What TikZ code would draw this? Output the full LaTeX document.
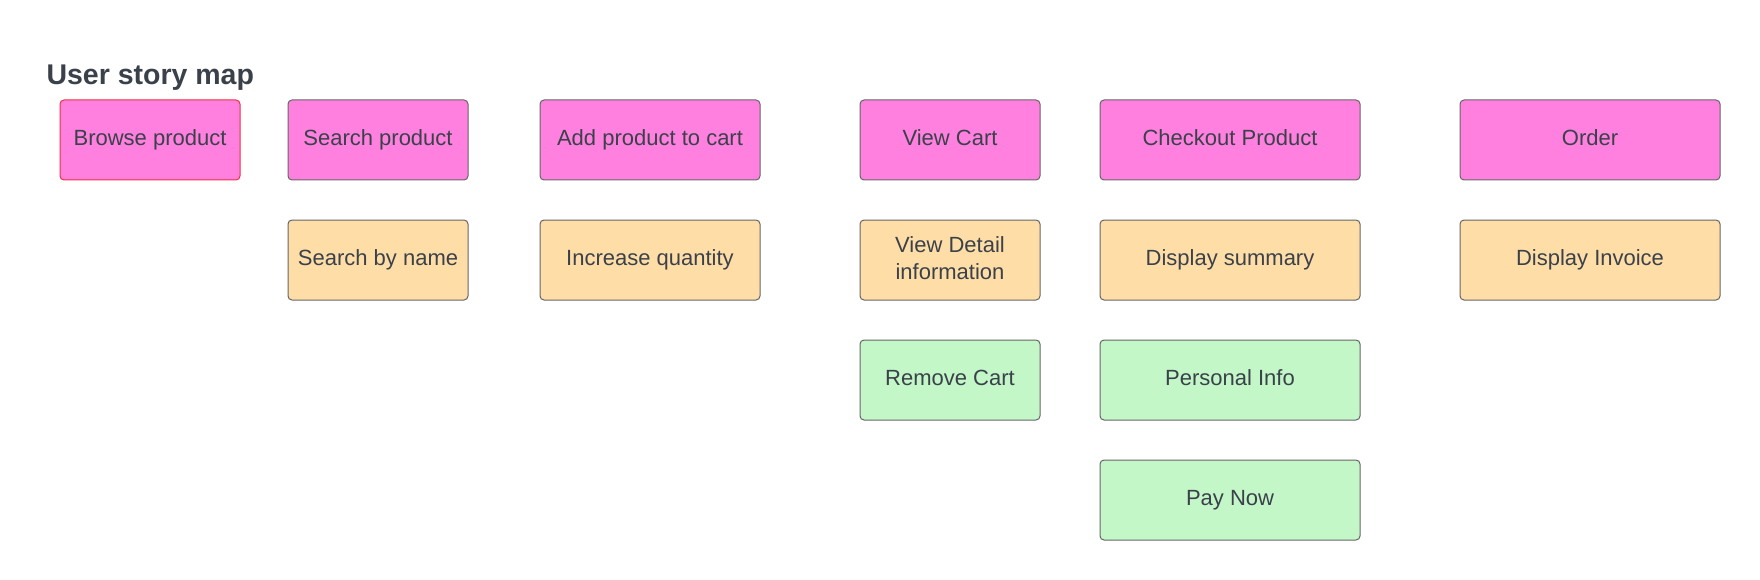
\documentclass[tikz,border=0pt]{standalone}
\usepackage{fontspec}
\setmainfont{Liberation Sans}
\definecolor{inkgray}{HTML}{3A414A}
\definecolor{pinkfill}{HTML}{FF80DF}
\definecolor{orangefill}{HTML}{FFDDA6}
\definecolor{greenfill}{HTML}{C3F7C8}
\definecolor{edgegray}{HTML}{666666}
\definecolor{edgered}{HTML}{F0303F}
\tikzset{
	card/.style={draw=edgegray, line width=1pt, rounded corners=4pt, minimum height=80pt, inner sep=0pt, align=center, text height=16pt, text depth=5pt, text=inkgray, font=\fontsize{22}{27}\selectfont},
	epic/.style={card, fill=pinkfill},
	story/.style={card, fill=orangefill},
	task/.style={card, fill=greenfill}
}

\begin{document}
\begin{tikzpicture}[x=1pt, y=-1pt]
		\useasboundingbox (0,0) rectangle (1760,580);
		\node[anchor=base west, text=inkgray, font=\fontsize{28.5}{35}\selectfont\bfseries] (title) at (43,85) {User story map};
		% top row
		\node[epic, draw=edgered, minimum width=180pt] (browse) at (150,140) {Browse product};
		\node[epic, minimum width=180pt] (search) at (378,140) {Search product};
		\node[epic, minimum width=220pt] (addcart) at (650,140) {Add product to cart};
		\node[epic, minimum width=180pt] (viewcart) at (950,140) {View Cart};
		\node[epic, minimum width=260pt] (checkout) at (1230,140) {Checkout Product};
		\node[epic, minimum width=260pt] (order) at (1590,140) {Order};
		% second row
		\node[story, minimum width=180pt] (byname) at (378,260) {Search by name};
		\node[story, minimum width=220pt] (quantity) at (650,260) {Increase quantity};
		\node[story, minimum width=180pt, text height=43pt] (detail) at (950,260) {View Detail\\information};
		\node[story, minimum width=260pt] (summary) at (1230,260) {Display summary};
		\node[story, minimum width=260pt] (invoice) at (1590,260) {Display Invoice};
		% third and fourth row
		\node[task, minimum width=180pt] (remove) at (950,380) {Remove Cart};
		\node[task, minimum width=260pt] (personal) at (1230,380) {Personal Info};
		\node[task, minimum width=260pt] (paynow) at (1230,500) {Pay Now};
	\end{tikzpicture}
\end{document}
